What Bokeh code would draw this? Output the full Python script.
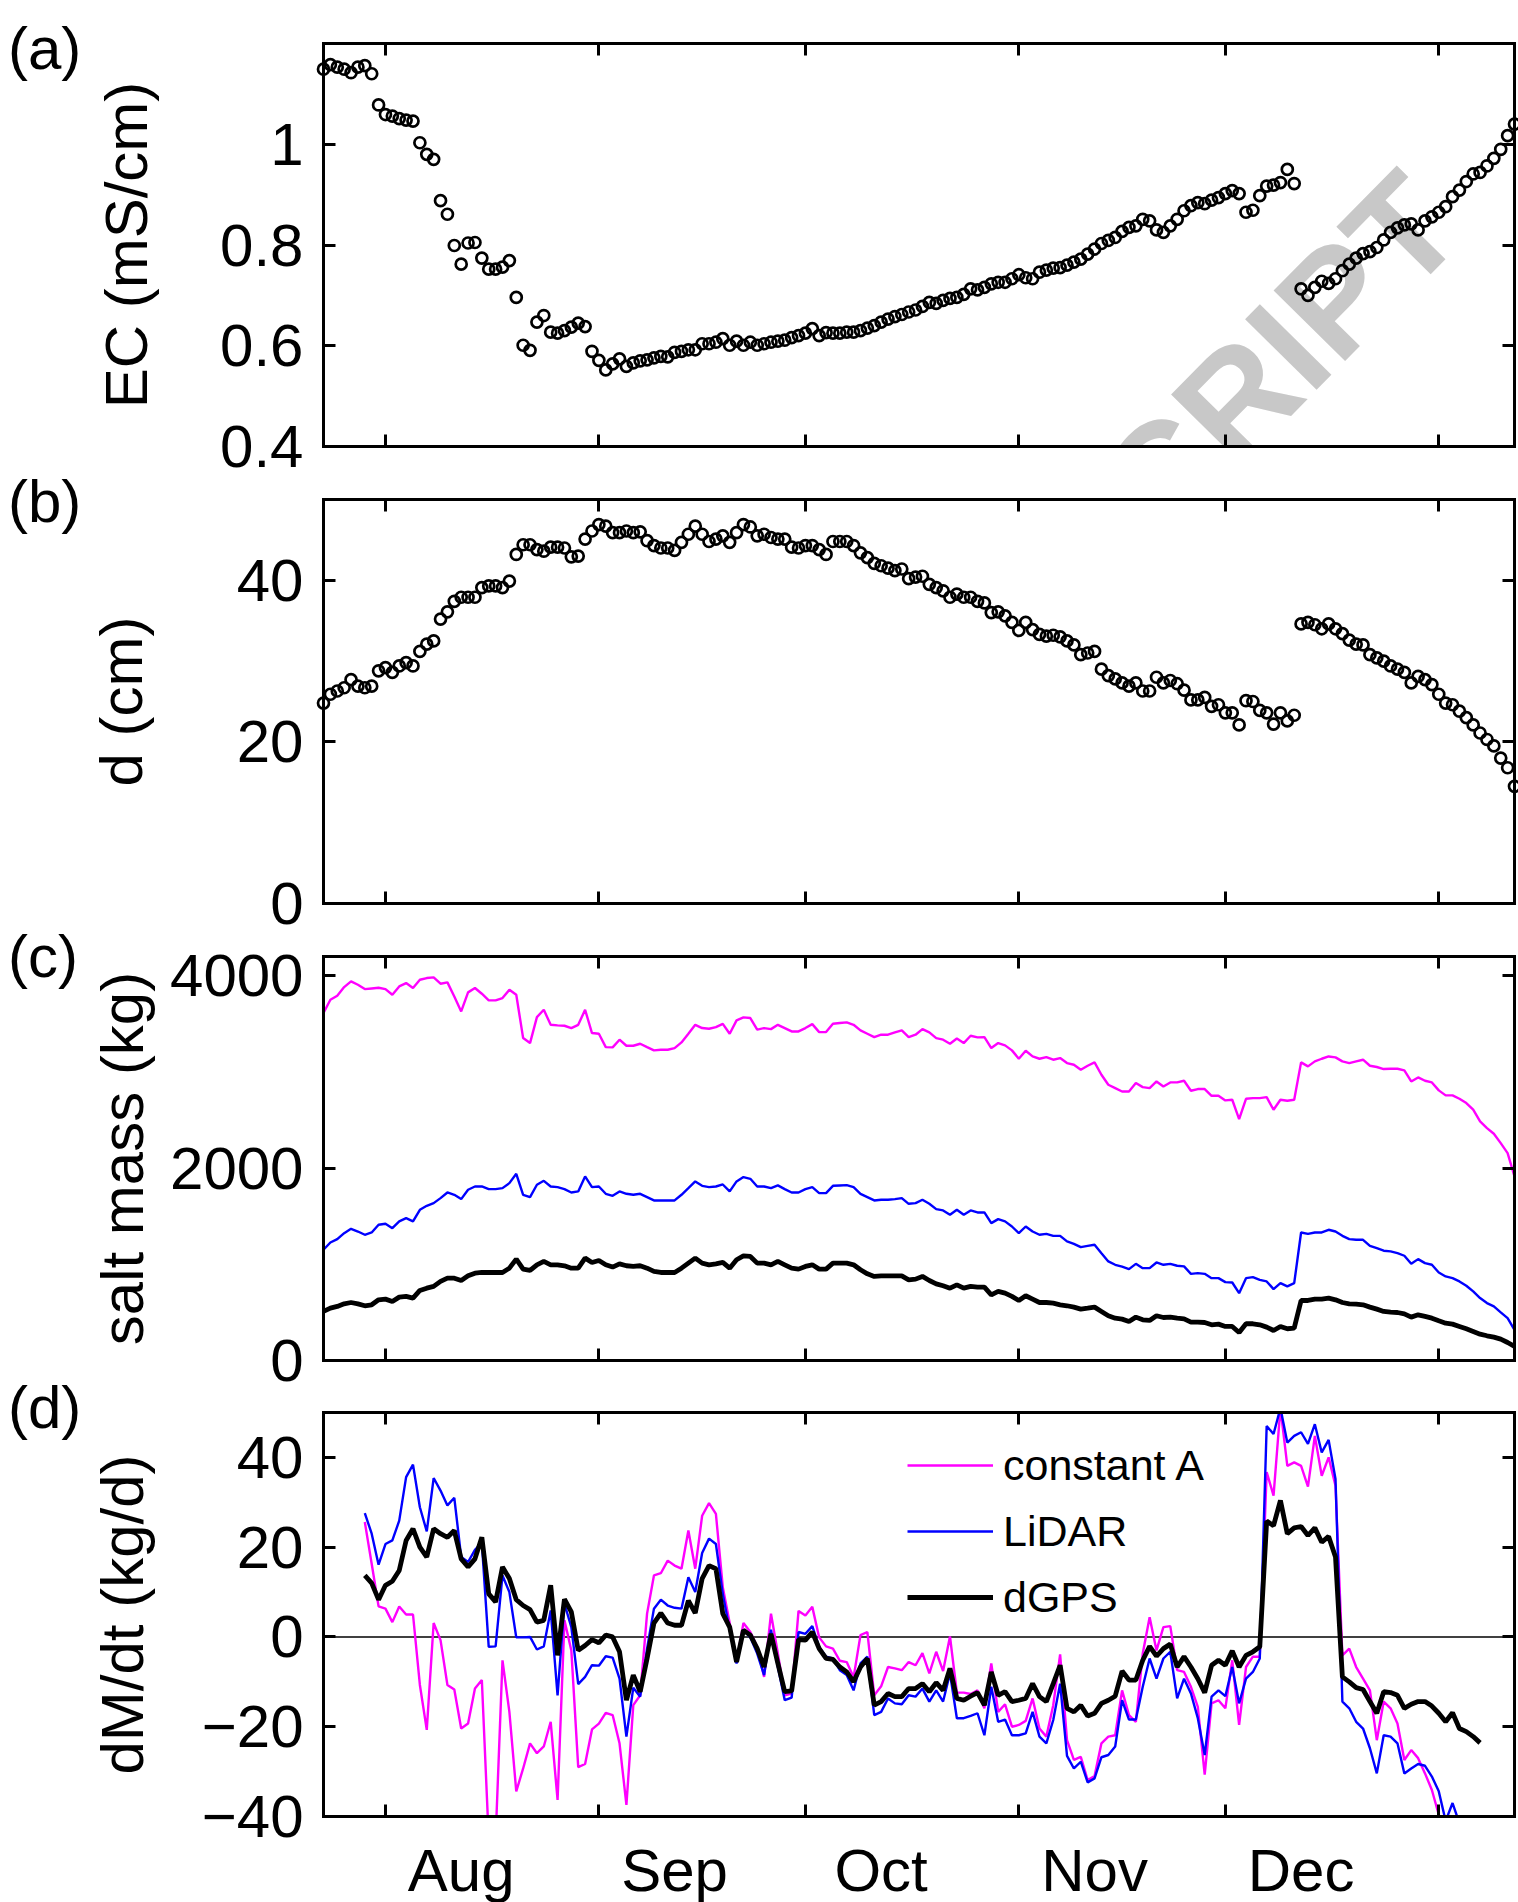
import math
from bokeh.plotting import figure
from bokeh.layouts import column, row
from bokeh.models import (Range1d, FixedTicker, LinearAxis, Label, Legend,
                          LegendItem, Span, Div, CustomLabelingPolicy)
from bokeh.embed import file_html
from bokeh.resources import INLINE

FONT = "Liberation Sans"

# ------------------------------------------------------------------ data
# x values are days since 1 August
month_starts = [0, 31, 61, 92, 122, 153]
month_names = ["Aug", "Sep", "Oct", "Nov", "Dec"]
month_label_days = [11, 42, 72, 103, 133]

# (a) electrical conductivity, mS/cm, daily from day -9
ec = [
    1.149, 1.158, 1.153, 1.149, 1.142, 1.153, 1.156, 1.140, 1.078, 1.059,
    1.056, 1.051, 1.048, 1.046, 1.003, 0.980, 0.970, 0.888, 0.861, 0.799,
    0.762, 0.804, 0.805, 0.774, 0.752, 0.752, 0.756, 0.769, 0.696, 0.601,
    0.591, 0.647, 0.660, 0.627, 0.625, 0.630, 0.637, 0.645, 0.638, 0.589,
    0.571, 0.552, 0.564, 0.574, 0.559, 0.566, 0.570, 0.572, 0.576, 0.579,
    0.578, 0.587, 0.589, 0.592, 0.592, 0.604, 0.604, 0.607, 0.614,
    0.601, 0.609, 0.601, 0.607, 0.601, 0.604, 0.607, 0.609, 0.611, 0.616,
    0.620, 0.625, 0.634, 0.620, 0.626, 0.625, 0.625, 0.627, 0.627, 0.630,
    0.635, 0.640, 0.647, 0.653, 0.658, 0.662, 0.667, 0.671, 0.678, 0.686,
    0.684, 0.690, 0.694, 0.696, 0.702, 0.713, 0.711, 0.716, 0.723, 0.726,
    0.726, 0.733, 0.741, 0.735, 0.733, 0.746, 0.750, 0.754, 0.755, 0.760,
    0.766, 0.772, 0.782, 0.792, 0.803, 0.809, 0.815, 0.827,
    0.835, 0.838, 0.851, 0.848, 0.830, 0.825, 0.838, 0.851, 0.868, 0.878,
    0.884, 0.882, 0.889, 0.894, 0.902, 0.908, 0.902, 0.865, 0.869, 0.898,
    0.917, 0.919, 0.924, 0.950, 0.922,
    0.713, 0.700, 0.716, 0.728, 0.724, 0.733, 0.749,
    0.762, 0.774, 0.783, 0.787, 0.795, 0.810, 0.825, 0.834, 0.840, 0.842,
    0.830, 0.848, 0.856, 0.865, 0.876, 0.896, 0.909, 0.926, 0.941, 0.944,
    0.957, 0.972, 0.990, 1.017, 1.040,
]

# (b) depth, cm, daily from day -9
depth = [
    24.8, 25.9, 26.3, 26.7, 27.7, 26.9, 26.7, 26.9, 28.8, 29.2,
    28.6, 29.4, 29.8, 29.4, 31.2, 32.1, 32.5, 35.2, 36.1, 37.4,
    37.9, 37.9, 37.9, 39.1, 39.3, 39.3, 39.1, 39.9, 43.2, 44.4,
    44.4, 43.8, 43.6, 44.1, 44.1, 44.0, 42.9, 43.0, 45.1, 46.1,
    46.9, 46.7, 45.9, 45.9, 46.1, 45.9, 46.0, 44.9, 44.3, 44.0,
    44.0, 43.7, 44.7, 45.7, 46.7, 45.7, 44.8, 45.1, 45.5,
    44.7, 45.9, 46.9, 46.6, 45.5, 45.7, 45.3, 45.1, 45.1, 44.1,
    44.0, 44.3, 44.3, 43.8, 43.2, 44.8, 44.8, 44.8, 44.3, 43.4,
    42.8, 42.1, 41.8, 41.5, 41.2, 41.4, 40.2, 40.4, 40.5, 39.5,
    39.1, 38.7, 37.9, 38.3, 37.9, 37.9, 37.4, 37.2, 36.0, 36.1,
    35.6, 34.8, 33.8, 34.8, 33.9, 33.3, 33.1, 33.2, 33.0, 32.5,
    32.0, 30.8, 31.0, 31.2, 29.0, 28.2, 27.8, 27.3,
    26.9, 27.3, 26.3, 26.3, 28.0, 27.3, 27.6, 27.2, 26.4, 25.2,
    25.2, 25.5, 24.4, 24.6, 23.6, 23.6, 22.1, 25.1, 25.0, 23.9,
    23.6, 22.2, 23.6, 22.6, 23.3,
    34.6, 34.8, 34.5, 34.0, 34.6, 34.0, 33.4,
    32.6, 32.1, 32.0, 30.8, 30.4, 30.0, 29.4, 29.0, 28.6, 27.3,
    28.1, 27.7, 27.1, 25.9, 24.8, 24.6, 23.8, 23.0, 22.1, 21.1,
    20.3, 19.5, 18.0, 16.8, 14.5,
]

# (c) salt mass, kg, daily from day -9
mass_const_a = [
    3612, 3750, 3792, 3882, 3941, 3906, 3861, 3868, 3875, 3861,
    3802, 3889, 3924, 3872, 3958, 3976, 3983, 3917, 3931, 3785,
    3629, 3827, 3872, 3813, 3744, 3744, 3768, 3854, 3802, 3352,
    3300, 3570, 3646, 3490, 3484, 3480, 3456, 3490, 3646, 3404,
    3397, 3258, 3255, 3335, 3272, 3272, 3293, 3258, 3224, 3231,
    3231, 3248, 3307, 3397, 3490, 3456, 3449, 3466, 3500,
    3397, 3536, 3567, 3560, 3439, 3456, 3445, 3490, 3456, 3421,
    3421, 3456, 3497, 3414, 3414, 3501, 3508, 3515, 3490, 3432,
    3397, 3362, 3387, 3387, 3411, 3432, 3362, 3387, 3445, 3411,
    3352, 3335, 3293, 3348, 3300, 3376, 3359, 3362, 3248, 3300,
    3276, 3224, 3137, 3220, 3161, 3137, 3154, 3127, 3144, 3092,
    3075, 3023, 3064, 3099, 2971, 2867, 2832, 2797,
    2797, 2884, 2842, 2832, 2901, 2849, 2891, 2891, 2908, 2804,
    2822, 2822, 2752, 2752, 2704, 2711, 2510, 2721, 2728, 2728,
    2738, 2607, 2711, 2700, 2711,
    3099, 3058, 3110, 3137, 3161, 3151, 3110,
    3092, 3110, 3127, 3064, 3051, 3030, 3033, 3033, 3016, 2901,
    2943, 2908, 2891, 2808, 2756, 2756, 2721, 2676, 2607, 2485,
    2416, 2357, 2260, 2156, 1913,
]
mass_lidar = [
    1151, 1227, 1262, 1324, 1369, 1341, 1307, 1331, 1411, 1421,
    1376, 1446, 1480, 1446, 1567, 1608, 1636, 1688, 1747, 1723,
    1678, 1775, 1809, 1809, 1782, 1782, 1792, 1844, 1941, 1723,
    1699, 1827, 1868, 1809, 1802, 1782, 1747, 1758, 1914, 1802,
    1809, 1733, 1712, 1758, 1733, 1723, 1733, 1699, 1664, 1664,
    1664, 1664, 1723, 1792, 1862, 1816, 1802, 1809, 1830,
    1758, 1862, 1907, 1889, 1809, 1809, 1792, 1820, 1782, 1747,
    1747, 1782, 1802, 1740, 1740, 1816, 1820, 1823, 1802, 1733,
    1699, 1664, 1671, 1671, 1678, 1688, 1629, 1636, 1671, 1629,
    1574, 1560, 1515, 1567, 1515, 1560, 1539, 1539, 1428, 1470,
    1446, 1393, 1324, 1393, 1341, 1307, 1317, 1296, 1296, 1238,
    1213, 1179, 1192, 1203, 1116, 1030, 995, 975,
    950, 1005, 960, 960, 1019, 995, 1005, 985, 978, 901,
    908, 901, 856, 856, 815, 811, 700, 856, 867, 839,
    822, 742, 804, 770, 804,
    1331, 1317, 1331, 1331, 1359, 1341, 1296,
    1262, 1255, 1255, 1192, 1168, 1141, 1134, 1116, 1089, 1005,
    1054, 1012, 995, 915, 874, 856, 822, 777, 718, 649,
    597, 562, 500, 441, 319,
]
mass_dgps = [
    510, 544, 562, 589, 603, 589, 569, 579, 631, 638,
    614, 659, 666, 648, 728, 752, 770, 822, 856, 856,
    832, 880, 908, 915, 915, 915, 915, 960, 1054, 950,
    936, 995, 1030, 995, 995, 985, 960, 960, 1064, 1019,
    1040, 995, 971, 1005, 985, 978, 985, 960, 926, 915,
    915, 915, 960, 1012, 1064, 1012, 995, 1005, 1020,
    960, 1047, 1088, 1082, 1012, 1012, 995, 1030, 995, 960,
    950, 978, 995, 950, 950, 1012, 1012, 1012, 995, 943,
    901, 874, 880, 880, 880, 880, 839, 846, 874, 832,
    797, 777, 752, 787, 752, 770, 763, 763, 683, 718,
    700, 666, 624, 673, 638, 603, 603, 596, 579, 569,
    555, 534, 544, 555, 510, 465, 440, 430,
    406, 451, 423, 416, 465, 447, 451, 440, 433, 399,
    399, 395, 371, 378, 354, 354, 291, 382, 382, 371,
    347, 312, 354, 330, 336,
    624, 624, 638, 638, 648, 631, 603,
    589, 586, 579, 555, 534, 510, 503, 499, 485, 451,
    475, 458, 440, 413, 388, 378, 354, 330, 302, 274,
    257, 243, 222, 187, 146,
]

# (d) dM/dt, kg/d, daily from day -3
rate_const_a = [
    25.6, 16.3, 6.8, 6.3, 3.3, 6.8, 5.0, 5.0, -10.7, -20.7,
    3.1, -0.7, -10.7, -11.7, -20.4, -19.3, -11.5, -9.6, -45.0, -45.0,
    -5.2, -16.7, -34.4, -29.3, -23.7, -25.9, -24.4, -18.9, -36.3, 3.7,
    -3.0, -29.0, -28.3, -20.6, -19.3, -16.9, -17.4, -23.7, -37.4, -15.2,
    -13.0, 5.2, 13.7, 14.2, 17.0, 15.9, 15.2, 23.7, 15.2, 27.0,
    29.8, 27.4, 11.1,
    3.1, -5.6, 3.1, 1.1, -2.2, -8.9, 5.2, -3.7, -13.0, -12.6,
    5.8, 4.8, 6.7, -0.1, -2.1, -2.6, -5.3, -5.6, -9.0, 0.4,
    1.1, -13.0, -11.0, -6.7, -7.0, -7.4, -5.6, -6.3, -3.6, -8.1,
    -3.3, -7.6, 0.1, -12.4, -12.4, -12.7, -11.9, -15.9, -5.9, -16.7,
    -15.0, -20.0, -19.6, -18.7, -13.7, -20.4, -22.2, -15.2, -3.9, -23.0,
    -27.4, -26.7, -31.9, -31.0, -23.7, -22.2, -21.9, -11.9,
    -17.4, -18.9, -3.7, 4.4, -3.0, 2.2, 2.4, -7.4, -7.8, -11.1,
    -15.6, -30.7, -14.8, -14.1, -15.9, -5.2, -19.6, -6.7, -4.4, -4.4,
    36.7, 31.5, 51.0, 38.1, 38.9, 38.1, 33.5, 44.8, 35.9, 40.0,
    33.7, -4.1, -2.6, -6.7, -9.3, -11.9, -23.0, -14.4, -15.9, -19.3,
    -27.4, -25.2, -27.0, -30.4, -34.1, -39.6, -43.0, -45.0, -47.0, -49.0,
    -51.0, -53.0,
]
rate_lidar = [
    27.6, 23.0, 16.1, 20.7, 21.5, 25.9, 35.6, 38.4, 28.9, 23.5,
    35.4, 32.6, 29.3, 31.0, 17.8, 16.7, 19.4, 21.0, -2.2, -2.1,
    13.7, 10.0, -0.1, -0.1, 0.0, -2.8, -2.1, 5.9, -13.0, 7.4,
    2.2, -10.5, -8.9, -6.3, -6.4, -4.3, -4.6, -9.3, -22.2, -11.3,
    -13.3, -2.6, 6.3, 8.3, 7.0, 6.5, 6.3, 13.3, 10.0, 18.7,
    21.9, 20.7, 9.6,
    1.5, -5.9, 1.6, -0.1, -3.7, -8.5, 1.6, -6.7, -14.1, -13.5,
    1.1, 0.7, 2.4, -2.2, -4.4, -4.8, -7.4, -8.5, -11.9, -5.9,
    -4.4, -17.4, -16.7, -13.7, -14.8, -15.0, -13.0, -13.3, -11.5, -14.4,
    -11.9, -14.4, -8.1, -18.1, -18.1, -17.6, -17.0, -21.9, -11.1, -18.9,
    -18.4, -21.9, -21.9, -21.5, -16.7, -22.2, -23.7, -18.5, -10.4, -26.5,
    -29.3, -27.8, -32.4, -31.5, -26.8, -26.3, -24.4, -14.1,
    -18.4, -18.4, -11.1, -4.8, -9.3, -4.8, -3.3, -13.7, -9.3, -12.6,
    -18.1, -26.3, -13.3, -11.9, -13.2, -6.7, -14.8, -9.3, -7.8, -4.8,
    47.0, 45.2, 51.0, 43.3, 44.8, 45.6, 43.0, 47.4, 41.1, 43.9,
    35.2, -14.4, -15.9, -18.9, -20.4, -24.8, -30.4, -21.9, -22.2, -23.7,
    -30.4, -29.3, -28.3, -28.7, -31.1, -34.4, -41.0, -37.0, -41.5, -45.0,
    -48.0, -50.0,
]
rate_dgps = [
    13.7, 12.0, 8.3, 11.5, 12.4, 14.8, 21.5, 24.1, 20.0, 17.8,
    24.1, 23.0, 22.2, 23.7, 17.4, 15.6, 17.4, 22.2, 9.6, 7.8,
    15.6, 13.0, 8.3, 7.0, 6.1, 3.3, 3.7, 11.5, -4.1, 8.4,
    5.6, -3.0, -1.9, -0.6, -1.3, 0.4, 0.0, -3.3, -14.1, -8.5,
    -12.2, -4.8, 3.1, 5.3, 3.1, 2.6, 2.6, 8.1, 5.3, 13.0,
    15.9, 15.2, 5.2,
    2.2, -5.6, 1.5, 0.4, -2.6, -6.7, 0.7, -5.9, -12.2, -12.0,
    -0.6, -0.7, 1.1, -2.6, -4.8, -5.0, -6.7, -7.8, -10.0, -6.7,
    -4.8, -15.2, -14.4, -12.6, -13.3, -13.3, -11.5, -11.5, -10.4, -12.2,
    -10.2, -11.9, -7.0, -13.7, -14.1, -13.2, -12.4, -15.2, -7.8, -13.0,
    -12.2, -14.4, -14.1, -13.7, -10.4, -13.3, -14.4, -10.4, -6.3, -15.9,
    -16.7, -15.2, -17.6, -17.0, -14.8, -14.1, -13.2, -7.6,
    -9.6, -9.6, -5.2, -2.1, -4.3, -2.6, -1.6, -6.7, -4.4, -6.7,
    -9.3, -12.4, -6.3, -5.2, -6.3, -3.1, -6.7, -4.1, -3.3, -2.2,
    25.8, 24.8, 30.4, 23.0, 24.3, 24.6, 22.6, 24.3, 21.1, 22.4,
    17.8, -8.9, -10.0, -11.3, -11.7, -14.4, -17.0, -12.2, -12.4, -13.0,
    -15.9, -15.0, -14.4, -14.4, -15.4, -17.0, -18.9, -16.9, -20.4, -21.1,
    -22.2, -23.6,
]

ec_days = list(range(-9, -9 + len(ec)))
depth_days = list(range(-9, -9 + len(depth)))
mass_days = list(range(-9, -9 + len(mass_dgps)))
rate_days = list(range(-3, -3 + len(rate_dgps)))

# ------------------------------------------------------------------ layout
X0, X1 = -9, 164
TAGW = 80                  # width of the panel-letter column
FL, FW, FR = 243, 1191, 4  # figure borders / frame width (frame starts at x=323)
MAG, BLU, BLK = "#ff00ff", "#0000ff", "#000000"
WM_COLOR = "#c8c8c8"
WM_X, WM_Y, WM_ANGLE = 795, 846, math.radians(45.4)


def xval(px):
    return X0 + (px - TAGW - FL) * (X1 - X0) / FW


def no_labels():
    return CustomLabelingPolicy(code="return new Set()")


def make_panel(ymin, ymax, yticks, overrides, ylabel, label_standoff,
               frame_top, frame_h, border_top, border_bottom,
               watermark=False, month_labels=False):
    p = figure(frame_width=FW, frame_height=frame_h,
               x_range=Range1d(X0, X1), y_range=Range1d(ymin, ymax),
               x_axis_location=None, y_axis_location=None,
               output_backend="svg", toolbar_location=None,
               min_border_left=FL, min_border_right=FR,
               min_border_top=border_top, min_border_bottom=border_bottom)
    p.grid.visible = False
    p.outline_line_color = None
    p.background_fill_color = "white"
    p.border_fill_color = "white"

    def yval(py):
        return ymax - (py - frame_top) * (ymax - ymin) / frame_h

    if watermark:
        p.add_layout(Label(x=xval(WM_X), y=yval(WM_Y), text="ACCEPTED MANUSCRIPT",
                           angle=WM_ANGLE, text_align="center", text_baseline="middle",
                           text_font=FONT, text_font_size="146px", text_font_style="bold",
                           text_color=WM_COLOR, level="annotation"))

    common = dict(axis_line_color="black", axis_line_width=3, axis_line_cap="square",
                  major_tick_in=12, major_tick_out=0, minor_tick_in=0, minor_tick_out=0,
                  major_tick_line_width=3, major_tick_line_color="black", level="overlay")
    hidden = dict(major_label_text_font_size="1px", major_label_standoff=0)

    left = LinearAxis(ticker=FixedTicker(ticks=yticks), axis_label=ylabel,
                      major_label_overrides=overrides,
                      major_label_text_font=FONT, major_label_text_font_size="60px",
                      major_label_text_color="black", major_label_standoff=20,
                      axis_label_text_font=FONT, axis_label_text_font_size="60px",
                      axis_label_text_font_style="normal", axis_label_text_color="black",
                      axis_label_standoff=label_standoff, **common)
    p.add_layout(left, "left")
    p.add_layout(LinearAxis(ticker=FixedTicker(ticks=yticks), major_label_policy=no_labels(),
                            **hidden, **common), "right")
    p.add_layout(LinearAxis(ticker=FixedTicker(ticks=month_starts), major_label_policy=no_labels(),
                            **hidden, **common), "above")
    if month_labels:
        bc = dict(common)
        bc.update(major_tick_in=0, minor_tick_in=12)
        bottom = LinearAxis(ticker=FixedTicker(ticks=month_label_days, minor_ticks=month_starts),
                            major_label_overrides={d: n for d, n in zip(month_label_days, month_names)},
                            major_label_text_font=FONT, major_label_text_font_size="60px",
                            major_label_text_color="black", major_label_standoff=20,
                            minor_tick_line_width=3, minor_tick_line_color="black", **bc)
    else:
        bottom = LinearAxis(ticker=FixedTicker(ticks=month_starts), major_label_policy=no_labels(),
                            **hidden, **common)
    p.add_layout(bottom, "below")
    return p


def tag(text, height, top_shift):
    html = ('<div style="font-family:\'Liberation Sans\';font-size:60px;line-height:60px;'
            'color:#000;margin:0;padding:0;position:relative;left:8px;top:%dpx;'
            'white-space:nowrap;">%s</div>' % (top_shift, text))
    return Div(text=html, width=TAGW, height=height, margin=0)


# (a)
pa = make_panel(0.4, 1.2, [0.4, 0.6, 0.8, 1.0], {0.4: "0.4", 0.6: "0.6", 0.8: "0.8", 1.0: "1"},
                "EC (mS/cm)", 57, 43, 403, 43, 26, watermark=True)
pa.scatter(ec_days, ec, marker="circle", size=11, fill_color=None,
           line_color="black", line_width=2.7, level="overlay")

# (b)
pb = make_panel(0, 50, [0, 20, 40], {}, "d (cm)", 79, 499, 404, 27, 26)
pb.scatter(depth_days, depth, marker="circle", size=11, fill_color=None,
           line_color="black", line_width=2.7, level="overlay")

# (c)
pc = make_panel(0, 4200, [0, 2000, 4000], {}, "salt mass (kg)", 11, 956, 404, 27, 26)
pc.line(mass_days, mass_const_a, line_color=MAG, line_width=2.4, level="overlay")
pc.line(mass_days, mass_lidar, line_color=BLU, line_width=2.4, level="overlay")
pc.line(mass_days, mass_dgps, line_color=BLK, line_width=4.8, level="overlay")

# (d)
pd_ = make_panel(-40, 50, [-40, -20, 0, 20, 40],
                 {-40: "\u221240", -20: "\u221220", 0: "0", 20: "20", 40: "40"},
                 "dM/dt (kg/d)", 43, 1412, 404, 26, 86, month_labels=True)
pd_.add_layout(Span(location=0, dimension="width", line_color="black", line_width=1.5,
                    level="underlay"))
r1 = pd_.line(rate_days, rate_const_a, line_color=MAG, line_width=2.4)
r2 = pd_.line(rate_days, rate_lidar, line_color=BLU, line_width=2.4)
r3 = pd_.line(rate_days, rate_dgps, line_color=BLK, line_width=4.8)
legend = Legend(items=[LegendItem(label="constant A", renderers=[r1]),
                       LegendItem(label="LiDAR", renderers=[r2]),
                       LegendItem(label="dGPS", renderers=[r3])],
                location=(584, 194), orientation="vertical",
                label_text_font=FONT, label_text_font_size="43px", label_text_color="black",
                glyph_width=86, glyph_height=50, label_height=50, label_standoff=10,
                spacing=16, padding=0, margin=0,
                border_line_color=None, background_fill_alpha=0)
pd_.add_layout(legend)

layout = column(
    row(tag("(a)", 472, 19), pa, spacing=0),
    row(tag("(b)", 457, 0), pb, spacing=0),
    row(tag("(c)", 457, -2), pc, spacing=0),
    row(tag("(d)", 516, -8), pd_, spacing=0),
    spacing=0,
)
open("out.html", "w").write(file_html(layout, INLINE))
